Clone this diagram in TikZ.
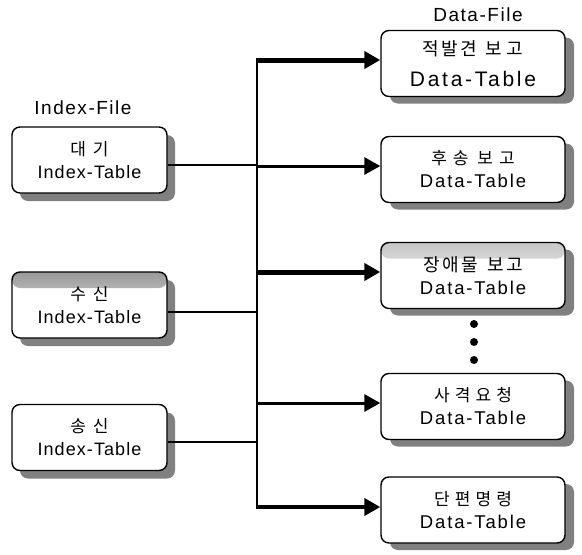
\documentclass[tikz,border=0pt]{standalone}
\usepackage{fontspec}
\setmainfont{Liberation Sans}
\newfontfamily\krfont{Noto Sans CJK KR}
\usetikzlibrary{arrows.meta,calc,shadows}
\newcommand\krt[3]{{\krfont\fontsize{#1}{#1}\selectfont\addfontfeature{LetterSpace=#2}#3}}
\newcommand\lat[3]{{\fontsize{#1}{#1}\selectfont\addfontfeature{LetterSpace=#2}#3}}
\newcommand\ksp{\hspace{9pt}}
\begin{document}
\begin{tikzpicture}[x=1pt,y=-1pt,
  boxbase/.style={draw=black, line width=1.4pt, rounded corners=8pt, fill=white,
    align=center, inner sep=0pt, font=\fontsize{18}{22}\selectfont},
  lbox/.style={boxbase, minimum width=155pt, minimum height=66pt,
    drop shadow={shadow xshift=8pt, shadow yshift=-8pt, fill=black!50, opacity=1}},
  rbox/.style={boxbase, minimum width=184pt, minimum height=66pt,
    drop shadow={shadow xshift=9pt, shadow yshift=-7pt, fill=black!50, opacity=1}},
  topshade/.style={path picture={\fill[top color=black!#1, bottom color=white]
    (path picture bounding box.north west) rectangle ($(path picture bounding box.north east)+(0,16)$);}},
  thinline/.style={line width=1.2pt},
  arr/.style={-{Triangle[length=16pt,width=17pt]}},
  title/.style={inner sep=0pt, font=\fontsize{19}{22}\selectfont}
]
\useasboundingbox (0,0) rectangle (582,555);

% titles
\node[title] (tIndex) at (83,108) {\lat{19}{8}{Index-File}};
\node[title] (tData) at (478,15) {\lat{19}{8}{Data-File}};

% left boxes
\node[lbox] (L1) at (89.5,160) {\krt{17}{40}{대기}\\[1pt]\lat{18}{6}{Index-Table}};
\node[lbox, topshade=40] (L2) at (89.5,305) {\krt{17}{40}{수신}\\[1pt]\lat{18}{6}{Index-Table}};
\node[lbox] (L3) at (89.5,437.5) {\krt{17}{40}{송신}\\[1pt]\lat{18}{6}{Index-Table}};

% right boxes
\node[rbox] (R1) at (473,63.5) {\krt{18}{12}{적발견\ksp 보\hspace{4pt}고}\\[9pt]\lat{21}{13}{Data-Table}};
\node[rbox] (R2) at (473,169.5) {\krt{17}{35}{후송\ksp 보고}\\[1pt]\lat{18.5}{10}{Data-Table}};
\node[rbox, topshade=22] (R3) at (473,275.5) {\krt{18}{15}{장애물\ksp 보고}\\[1pt]\lat{18.5}{10}{Data-Table}};
\node[rbox] (R4) at (473,406.5) {\krt{17}{30}{사격요청}\\[1pt]\lat{18.5}{10}{Data-Table}};
\node[rbox] (R5) at (473,510) {\krt{17}{30}{단편명령}\\[1pt]\lat{18.5}{10}{Data-Table}};

% dots
\fill (474,324) circle (4);
\fill (474,342) circle (4);
\fill (474,360) circle (4);

% bus coordinates
\coordinate (b1) at (257,60);
\coordinate (b2) at (257,166);
\coordinate (b3) at (257,272);
\coordinate (b4) at (257,403);
\coordinate (b5) at (257,507);
\coordinate (i1) at (257,165);
\coordinate (i2) at (257,312);
\coordinate (i3) at (257,442);

% bus
\draw[line width=2pt] ($(b1)+(0,-2)$) -- ($(b5)+(0,2)$);

% left connectors
\draw[thinline] (L1.east |- i1) -- (i1);
\draw[thinline] (L2.east |- i2) -- (i2);
\draw[thinline] (L3.east |- i3) -- (i3);

% arrows
\draw[arr, line width=5pt] ($(b1)+(-1,0)$) -- (b1 -| R1.west);
\draw[arr, line width=3pt] (b2) -- (b2 -| R2.west);
\draw[arr, line width=5pt] (b3) -- (b3 -| R3.west);
\draw[arr, line width=3pt] (b4) -- (b4 -| R4.west);
\draw[arr, line width=4pt] ($(b5)+(-1,0)$) -- (b5 -| R5.west);
\end{tikzpicture}
\end{document}
